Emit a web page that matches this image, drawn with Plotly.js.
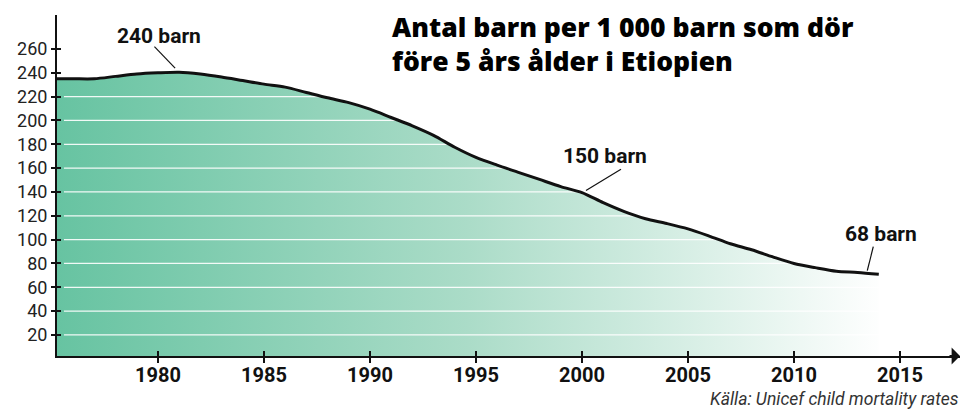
<!DOCTYPE html>
<html>
<head>
<meta charset="utf-8">
<script src="https://cdn.plot.ly/plotly-3.0.1.min.js"></script>
<style>
  html, body { margin: 0; padding: 0; background: #ffffff; }
  #chart { width: 961px; height: 410px; }
</style>
</head>
<body>
<div id="chart"></div>
<script>
// ---- Data ----
const years = [1975, 1976, 1977, 1978, 1979, 1980, 1981, 1982, 1983, 1984,
               1985, 1986, 1987, 1988, 1989, 1990, 1991, 1992, 1993, 1994,
               1995, 1996, 1997, 1998, 1999, 2000, 2001, 2002, 2003, 2004,
               2005, 2006, 2007, 2008, 2009, 2010, 2011, 2012, 2013, 2014];
const deaths = [235, 235, 235, 237, 239, 240, 240.5, 239, 236.5, 233.5,
                230.5, 228, 223.5, 219, 215, 209.5, 202.5, 195.5, 187.5, 177.5,
                169, 162.5, 156.5, 150.5, 144.5, 139.5, 131, 123.5, 117.5, 113.5,
                109, 103, 96.5, 91.5, 85.5, 80, 76.5, 73.5, 72.5, 71];
const yTickVals = [20, 40, 60, 80, 100, 120, 140, 160, 180, 200, 220, 240, 260];
const xTickVals = [1980, 1985, 1990, 1995, 2000, 2005, 2010, 2015];
const xTickText = ['1980', '1985', '1990', '1995', '2000', '2005', '2010', '2015'];
const gridVals = [20, 40, 60, 80, 100, 120, 140, 160, 180, 200, 220];
const calloutYears = [1981, 2000, 2014];
const calloutLabels = ['240 barn', '150 barn', '68 barn'];
const titleText = 'Antal barn per 1 000 barn som dör<br>före 5 års ålder i Etiopien';
const sourceText = 'Källa: Unicef child mortality rates';

// ---- Styling / layout ----
const FONT = 'Roboto, "DejaVu Sans", sans-serif';
const TITLE_FONT = '"Open Sans", Roboto, sans-serif';
const xRange = [1975.24, 2017.83];
const yRange = [2.35, 288.5];

const traces = [];
// gradient area
traces.push({
  x: years, y: deaths, type: 'scatter', mode: 'lines',
  fill: 'tozeroy',
  line: { width: 0, shape: 'spline', smoothing: 0.8 },
  fillgradient: {
    type: 'horizontal',
    start: years[0],
    stop: years[years.length - 1] + 0.3,
    colorscale: [[0, '#66c3a1'], [0.5, '#abdcc8'], [1, '#ffffff']]
  },
  hoverinfo: 'skip', showlegend: false
});
// white grid lines over the fill, under the curve
gridVals.forEach(v => {
  traces.push({
    x: [xRange[0] + 0.33, xRange[1]], y: [v, v], type: 'scatter', mode: 'lines',
    line: { color: 'rgba(255,255,255,0.9)', width: 1.3 },
    hoverinfo: 'skip', showlegend: false
  });
});
// black curve
traces.push({
  x: years, y: deaths, type: 'scatter', mode: 'lines',
  line: { color: '#111111', width: 3, shape: 'spline', smoothing: 0.8 },
  hoverinfo: 'skip', showlegend: false
});
// empty trace for the overlay axes (crossing ticks)
traces.push({ x: [], y: [], xaxis: 'x2', yaxis: 'y2', type: 'scatter', mode: 'lines', showlegend: false, hoverinfo: 'skip' });

function valueAt(yr) { return deaths[years.indexOf(yr)]; }

// callout geometry in pixels relative to the data point
const calloutStyle = [
  { tx: -20, ty: 36.7, l: [-4, 4, -24.7, 25.5] },
  { tx: 23.4, ty: 36.6, l: [4, 2, 39, 23.3] },
  { tx: 2.2, ty: 40.5, l: [-11.5, 3.5, -5.5, 27.5] }
];

const annotations = [];
const shapes = [];
calloutYears.forEach((yr, i) => {
  const v = valueAt(yr);
  const s = calloutStyle[i];
  annotations.push({
    x: yr, y: v, xref: 'x', yref: 'y', text: calloutLabels[i], showarrow: false,
    xshift: s.tx, yshift: s.ty, xanchor: 'center', yanchor: 'middle',
    font: { family: FONT, size: 21, color: '#111111', weight: 700 }
  });
  shapes.push({
    type: 'line', xref: 'x', yref: 'y',
    xsizemode: 'pixel', ysizemode: 'pixel', xanchor: yr, yanchor: v,
    x0: s.l[0], y0: s.l[1], x1: s.l[2], y1: s.l[3],
    line: { color: '#111111', width: 1.2 }, layer: 'above'
  });
});
// title
annotations.push({
  x: (390 - 57) / 903, y: 1, xref: 'paper', yref: 'paper', text: titleText, showarrow: false,
  xanchor: 'left', yanchor: 'top', align: 'left', yshift: 8,
  font: { family: TITLE_FONT, size: 26.5, color: '#000000', weight: 800 }
});
// x-axis arrow head
annotations.push({
  x: 1, y: 0, xref: 'paper', yref: 'paper', ax: -12, ay: 0, axref: 'pixel', ayref: 'pixel',
  text: '', showarrow: true, arrowhead: 1, arrowsize: 1.4, arrowwidth: 2, arrowcolor: '#111111'
});
// source
annotations.push({
  x: 1, y: 0, xref: 'paper', yref: 'paper', text: sourceText, showarrow: false,
  xanchor: 'right', yanchor: 'bottom', yshift: -54, xshift: 0, borderpad: 0,
  font: { family: FONT, size: 17.5, color: '#333333', style: 'italic' }
});

const layout = {
  width: 961, height: 410,
  margin: { l: 57, r: 1, t: 15, b: 54 },
  paper_bgcolor: '#ffffff', plot_bgcolor: 'rgba(0,0,0,0)',
  showlegend: false,
  xaxis: {
    range: xRange, fixedrange: true,
    tickmode: 'array', tickvals: xTickVals, ticktext: xTickText,
    ticks: 'outside', ticklen: 5, tickwidth: 2, tickcolor: '#111111',
    showline: true, linewidth: 2, linecolor: '#111111',
    showgrid: false, zeroline: false,
    ticklabelstandoff: -5,
    tickfont: { family: FONT, size: 20, color: '#111111', weight: 700 }
  },
  yaxis: {
    range: yRange, fixedrange: true,
    tickmode: 'array', tickvals: yTickVals,
    ticks: 'outside', ticklen: 4, tickwidth: 2, tickcolor: '#111111',
    showline: true, linewidth: 2, linecolor: '#111111',
    showgrid: false, zeroline: false,
    ticklabelstandoff: 0,
    tickfont: { family: FONT, size: 18, color: '#222222' }
  },
  xaxis2: {
    overlaying: 'x', anchor: 'y2', range: xRange, fixedrange: true,
    tickmode: 'array', tickvals: xTickVals,
    ticks: 'inside', ticklen: 5, tickwidth: 2, tickcolor: '#111111',
    showticklabels: false, showline: false, showgrid: false, zeroline: false
  },
  yaxis2: {
    overlaying: 'y', anchor: 'x2', side: 'left', range: yRange, fixedrange: true,
    tickmode: 'array', tickvals: yTickVals,
    ticks: 'inside', ticklen: 4, tickwidth: 2, tickcolor: '#111111',
    showticklabels: false, showline: false, showgrid: false, zeroline: false
  },
  annotations: annotations,
  shapes: shapes
};

Plotly.newPlot('chart', traces, layout, { staticPlot: true, displayModeBar: false });
</script>
</body>
</html>
